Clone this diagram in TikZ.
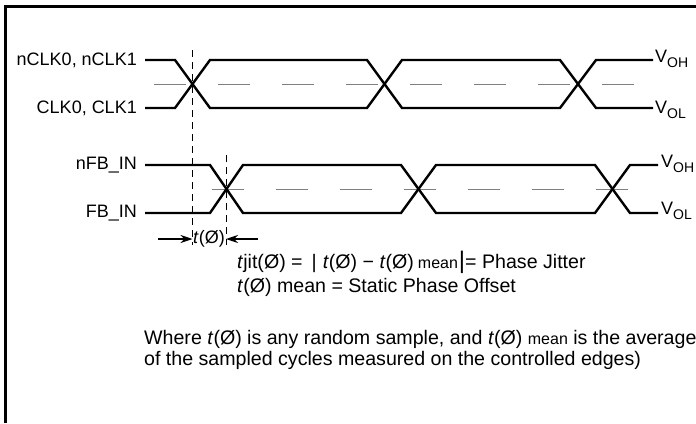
\documentclass[tikz,border=0pt]{standalone}
\usepackage{fontspec}
\setmainfont{Liberation Sans}
\usetikzlibrary{arrows.meta}

\newcommand{\tphi}{\textit{t}(Ø)}
\newcommand{\meanlbl}{{\fontsize{16}{18}\selectfont mean}}
\newcommand{\vsub}[1]{V\raisebox{-5pt}{\fontsize{14}{16}\selectfont #1}}

\begin{document}
\begin{tikzpicture}[x=1pt,y=-1pt,
  wave/.style={line width=2.4pt,line join=miter},
  midlvl/.style={gray,line width=0.9pt,dash pattern=on 32pt off 32pt},
  marker/.style={line width=0.8pt,dash pattern=on 7pt off 5pt},
  lbl/.style={font=\fontsize{18}{22}\selectfont,inner sep=0pt},
  body/.style={font=\fontsize{19.6}{23}\selectfont,inner sep=0pt},
  skewarrow/.style={line width=1.1pt,-{Stealth[length=12pt,width=8pt]}}]

\useasboundingbox (0,0) rectangle (696,423);
% frame
\draw[line width=3.4pt] (5.5,423) -- (5.5,6.5) -- (696,6.5);

% input clock pair
\draw[midlvl] (154,84) -- (634,84);
\draw[wave] (145,60) -- (175,60) -- (210,108) -- (367,108) -- (402,60) -- (560,60) -- (596,108) -- (653,108);
\draw[wave] (145,108) -- (175,108) -- (210,60) -- (367,60) -- (402,108) -- (560,108) -- (596,60) -- (653,60);

% feedback pair
\draw[midlvl] (212,189) -- (628,189);
\draw[wave] (145,165) -- (210,165) -- (243,213) -- (401,213) -- (436,165) -- (595,165) -- (630,213) -- (658,213);
\draw[wave] (145,213) -- (210,213) -- (243,165) -- (401,165) -- (436,213) -- (595,213) -- (630,165) -- (658,165);

% markers
\coordinate (clkx) at (192.5,239);
\coordinate (fbx) at (226,239);
\draw[marker] (192.5,50) -- (clkx |- 0,245);
\draw[marker] (226,155) -- (fbx |- 0,245);

% signal names
\node[lbl,anchor=east] (nclk) at (137,60) {nCLK0, nCLK1};
\node[lbl,anchor=east] (clk) at (137,108) {CLK0, CLK1};
\node[lbl,anchor=east] (nfb) at (137,165) {nFB\_IN};
\node[lbl,anchor=east] (fb) at (137,213) {FB\_IN};

\node[lbl,anchor=base west] (voh1) at (655,62) {\vsub{OH}};
\node[lbl,anchor=base west] (vol1) at (655,113) {\vsub{OL}};
\node[lbl,anchor=base west] (voh2) at (661,167) {\vsub{OH}};
\node[lbl,anchor=base west] (vol2) at (661,214) {\vsub{OL}};

% phase offset
\node[lbl] (tofs) at (209,239) {\tphi};
\coordinate (lefttail) at (158,239);
\coordinate (righttail) at (258,239);
\draw[skewarrow] (lefttail) -- (clkx);
\draw[skewarrow] (righttail) -- (fbx);

% equations
\node[body,anchor=west] (jit) at (237,262)
  {\textit{t}jit(Ø) =\hspace{9pt}|\hspace{6pt}\tphi{} − \tphi{}\hspace{4pt}\meanlbl\hspace{1pt}{\fontsize{24}{24}\selectfont|}= Phase Jitter};
\node[body,anchor=west] (spo) at (237,287) {\tphi{} mean = Static Phase Offset};

\node[body,anchor=north west,align=left] (note) at (144,330)
  {Where \tphi{} is any random sample, and \tphi{} \meanlbl{} is the average\\[-2pt]
   of the sampled cycles measured on the controlled edges)};

\end{tikzpicture}
\end{document}
